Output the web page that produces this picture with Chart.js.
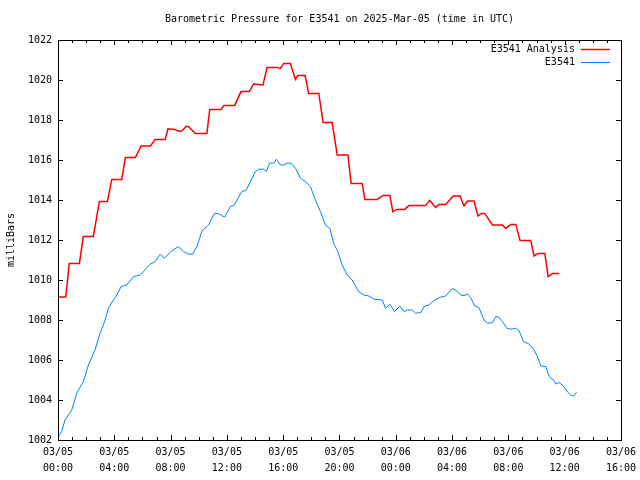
<!DOCTYPE html>
<html>
<head>
<meta charset="utf-8">
<script src="https://cdn.jsdelivr.net/npm/chart.js@4.4.1/dist/chart.umd.min.js"></script>
<style>
  html, body { margin: 0; padding: 0; background: #fff; }
</style>
</head>
<body>
<canvas id="pressure" width="640" height="480"></canvas>
<script>
// hours since 2025-03-05 00:00 UTC
const analysisHours = [0, 0.55, 0.80, 1.52, 1.80, 2.51, 2.94, 3.51, 3.82, 4.53, 4.79, 5.50, 5.91, 6.57, 6.90, 7.62,
    7.81, 8.28, 8.54, 8.80, 9.09, 9.27, 9.75, 10.58, 10.78, 11.60, 11.79, 12.55, 13.00, 13.59, 13.90, 14.57,
    14.85, 15.56, 15.80, 16.04, 16.51, 16.87, 17.03, 17.56, 17.81, 18.53, 18.84, 19.48, 19.84, 20.60, 20.83,
    21.61, 21.80, 22.68, 23.11, 23.58, 23.79, 24.11, 24.63, 24.93, 26.12, 26.41, 26.83, 27.07, 27.54, 28.09,
    28.56, 28.85, 29.09, 29.56, 29.84, 30.09, 30.32, 30.87, 31.58, 31.81, 32.17, 32.53, 32.83, 33.59, 33.83,
    34.11, 34.59, 34.83, 35.14, 35.61];
const analysisValues = [1009.15, 1009.15, 1010.83, 1010.83, 1012.18, 1012.18, 1013.93, 1013.93, 1015.03, 1015.03,
    1016.13, 1016.13, 1016.70, 1016.70, 1017.03, 1017.03, 1017.56, 1017.53, 1017.45, 1017.45, 1017.68, 1017.68,
    1017.33, 1017.33, 1018.53, 1018.53, 1018.73, 1018.73, 1019.42, 1019.42, 1019.80, 1019.75, 1020.63, 1020.63,
    1020.58, 1020.83, 1020.83, 1020.03, 1020.23, 1020.23, 1019.33, 1019.33, 1017.87, 1017.87, 1016.25, 1016.25,
    1014.83, 1014.83, 1014.03, 1014.03, 1014.23, 1014.23, 1013.42, 1013.53, 1013.53, 1013.72, 1013.72, 1013.98,
    1013.63, 1013.78, 1013.78, 1014.20, 1014.20, 1013.70, 1013.95, 1013.95, 1013.20, 1013.33, 1013.33, 1012.75,
    1012.75, 1012.58, 1012.78, 1012.78, 1011.97, 1011.97, 1011.20, 1011.33, 1011.33, 1010.17, 1010.33, 1010.33];

const obsHours = [0.02, 0.26, 0.50, 0.98, 1.33, 1.80, 2.16, 2.63, 2.99, 3.35, 3.58, 3.94, 4.18, 4.48, 4.89, 5.36,
    5.84, 6.07, 6.55, 6.90, 7.26, 7.57, 8.09, 8.56, 8.92, 9.27, 9.56, 9.87, 10.23, 10.70, 11.12, 11.46, 11.84,
    12.24, 12.53, 13.06, 13.38, 14.02, 14.26, 14.61, 14.80, 15.04, 15.32, 15.52, 15.80, 16.04, 16.28, 16.56,
    16.87, 17.22, 17.58, 17.94, 18.29, 18.65, 19.00, 19.31, 19.59, 19.88, 20.19, 20.55, 20.90, 21.37, 21.73,
    22.09, 22.44, 23.04, 23.27, 23.58, 23.91, 24.29, 24.58, 24.82, 25.17, 25.41, 25.77, 26.05, 26.36, 26.71,
    27.19, 27.54, 28.02, 28.26, 28.61, 28.85, 29.09, 29.32, 29.61, 29.91, 30.27, 30.51, 30.87, 31.10, 31.34,
    31.58, 31.89, 32.17, 32.53, 32.76, 33.07, 33.47, 33.83, 34.07, 34.31, 34.66, 34.90, 35.25, 35.37, 35.61,
    35.96, 36.21, 36.44, 36.63, 36.85];
const obsValues = [1002.17, 1002.42, 1003.00, 1003.50, 1004.34, 1004.92, 1005.75, 1006.50, 1007.34, 1008.00,
    1008.59, 1009.00, 1009.25, 1009.67, 1009.75, 1010.17, 1010.25, 1010.42, 1010.79, 1010.92, 1011.29, 1011.09,
    1011.47, 1011.67, 1011.42, 1011.29, 1011.29, 1011.67, 1012.45, 1012.75, 1013.34, 1013.30, 1013.14, 1013.67,
    1013.75, 1014.42, 1014.50, 1015.42, 1015.54, 1015.54, 1015.42, 1015.84, 1015.84, 1016.04, 1015.75, 1015.75,
    1015.84, 1015.84, 1015.59, 1015.09, 1014.92, 1014.67, 1014.00, 1013.42, 1012.75, 1012.59, 1011.84, 1011.42,
    1010.75, 1010.25, 1010.00, 1009.42, 1009.25, 1009.20, 1009.04, 1009.00, 1008.59, 1008.79, 1008.42, 1008.70,
    1008.42, 1008.50, 1008.50, 1008.34, 1008.37, 1008.70, 1008.75, 1008.97, 1009.14, 1009.20, 1009.57, 1009.50,
    1009.25, 1009.22, 1009.30, 1009.12, 1008.70, 1008.62, 1008.00, 1007.84, 1007.87, 1008.17, 1008.14, 1007.92,
    1007.59, 1007.54, 1007.59, 1007.47, 1006.92, 1006.80, 1006.50, 1006.17, 1005.70, 1005.67, 1005.17, 1004.97,
    1004.80, 1004.87, 1004.67, 1004.39, 1004.25, 1004.20, 1004.39];

// major x ticks every 4 hours
const tickDays = ['03/05', '03/05', '03/05', '03/05', '03/05', '03/05', '03/06', '03/06', '03/06', '03/06', '03/06'];
const tickTimes = ['00:00', '04:00', '08:00', '12:00', '16:00', '20:00', '00:00', '04:00', '08:00', '12:00', '16:00'];

const FONT = "'DejaVu Sans Mono', 'Liberation Mono', monospace";

function zip(xs, ys) {
    return xs.map((x, i) => ({x: x, y: ys[i]}));
}

// gnuplot style: closed frame with inward ticks on all four sides
const frame = {
    id: 'frame',
    afterDraw(chart) {
        const {ctx, chartArea: a, scales: {x, y}} = chart;
        ctx.save();
        ctx.strokeStyle = '#000';
        ctx.lineWidth = 1;
        ctx.beginPath();
        x.ticks.forEach(t => {
            const px = Math.round(x.getPixelForValue(t.value)) + 0.5;
            const len = t.value % 4 === 0 ? 5 : 3;
            ctx.moveTo(px, a.bottom); ctx.lineTo(px, a.bottom - len);
            ctx.moveTo(px, a.top); ctx.lineTo(px, a.top + len);
        });
        y.ticks.forEach(t => {
            const py = Math.round(y.getPixelForValue(t.value)) + 0.5;
            ctx.moveTo(a.left, py); ctx.lineTo(a.left + 5, py);
            ctx.moveTo(a.right, py); ctx.lineTo(a.right - 5, py);
        });
        ctx.stroke();
        ctx.strokeRect(Math.round(a.left) + 0.5, Math.round(a.top) + 0.5,
            Math.round(a.right - a.left), Math.round(a.bottom - a.top));

        // key, top right inside the frame
        ctx.font = '10px ' + FONT;
        ctx.textAlign = 'right';
        ctx.textBaseline = 'middle';
        chart.data.datasets.forEach((ds, i) => {
            const ly = a.top + 9.5 + i * 13;
            ctx.fillStyle = '#000';
            ctx.fillText(ds.label, a.right - 46, ly);
            ctx.strokeStyle = ds.borderColor;
            ctx.lineWidth = ds.borderWidth;
            ctx.beginPath();
            ctx.moveTo(a.right - 40, ly);
            ctx.lineTo(a.right - 11, ly);
            ctx.stroke();
        });
        ctx.restore();
    }
};

new Chart(document.getElementById('pressure'), {
    type: 'line',
    data: {
        datasets: [
            {
                label: 'E3541 Analysis',
                data: zip(analysisHours, analysisValues),
                borderColor: '#ff0000',
                borderWidth: 1.5,
                pointRadius: 0,
                tension: 0
            },
            {
                label: 'E3541',
                data: zip(obsHours, obsValues),
                borderColor: '#0080ff',
                borderWidth: 1,
                pointRadius: 0,
                tension: 0
            }
        ]
    },
    options: {
        responsive: false,
        animation: false,
        devicePixelRatio: 1,
        layout: {padding: {left: 0, right: 19, top: 0, bottom: 0}},
        plugins: {
            legend: {display: false},
            tooltip: {enabled: false},
            title: {
                display: true,
                fullSize: false,
                text: 'Barometric Pressure for E3541 on 2025-Mar-05 (time in UTC)',
                color: '#000',
                font: {family: FONT, size: 10, weight: 'normal', lineHeight: 1.2},
                padding: {top: 13, bottom: 15}
            }
        },
        scales: {
            x: {
                type: 'linear',
                min: 0,
                max: 40,
                grid: {display: false, drawTicks: false},
                border: {display: false},
                afterFit(scale) { scale.height = 40; },
                ticks: {
                    stepSize: 1,
                    autoSkip: false,
                    maxRotation: 0,
                    padding: 4,
                    color: '#000',
                    font: {family: FONT, size: 10, lineHeight: 1.6},
                    callback: v => v % 4 === 0 ? [tickDays[v / 4], tickTimes[v / 4]] : ''
                }
            },
            y: {
                min: 1002,
                max: 1022,
                grid: {display: false, drawTicks: false},
                border: {display: false},
                afterFit(scale) { scale.width = 58; },
                title: {
                    display: true,
                    text: 'milliBars',
                    color: '#000',
                    font: {family: FONT, size: 10, lineHeight: 1.2},
                    padding: {top: 5, bottom: 0}
                },
                ticks: {
                    stepSize: 2,
                    padding: 6,
                    color: '#000',
                    font: {family: FONT, size: 10},
                    callback: v => String(v)
                }
            }
        }
    },
    plugins: [frame]
});
</script>
</body>
</html>
